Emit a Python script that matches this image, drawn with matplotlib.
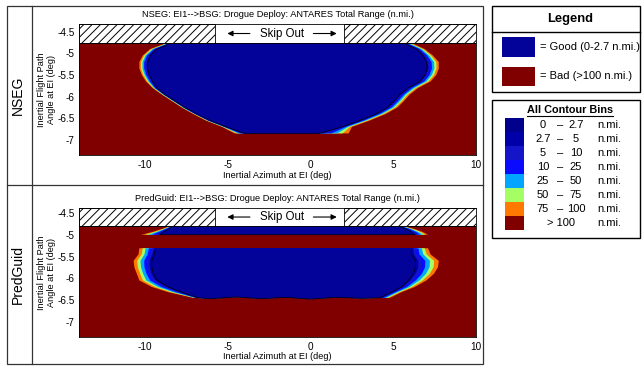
import numpy as np
import matplotlib
matplotlib.use('Agg')
import matplotlib.pyplot as plt
from matplotlib.patches import Rectangle

plt.rcParams['font.family'] = ['Liberation Sans', 'DejaVu Sans']
plt.rcParams['hatch.linewidth'] = 0.7

# contour bins (n.mi.)
bin_lo = ['0', '2.7', '5', '10', '25', '50', '75', '>']
bin_hi = ['2.7', '5', '10', '25', '50', '75', '100', '100']
bin_colors = ['#00008c', '#0000a8', '#1414c8', '#0a0aff', '#00a5ff', '#a5ff64', '#ff7800', '#800000']
good_color = '#03039a'
bad_color = '#800000'

# where each outer bin (2.7-5 ... 75-100) ends, as fraction from good edge to outer edge
band_frac = [0.12, 0.25, 0.42, 0.62, 0.8, 1.0]

# NSEG: good (<2.7) edge and outer (100 n.mi.) edge, azimuth vs flight path angle
nseg_fpa = [-4.76, -4.9, -5.05, -5.2, -5.35, -5.5, -5.65, -5.8, -5.95, -6.1, -6.25, -6.4, -6.55, -6.7, -6.85]
nseg_left_good = [-8.4, -9.3, -9.7, -9.85, -9.85, -9.75, -9.55, -9.3, -8.8, -8.2, -7.6, -6.9, -6.1, -5.1, -4.0]
nseg_left_out = [-8.7, -9.7, -10.15, -10.35, -10.35, -10.2, -9.95, -9.55, -9.0, -8.4, -7.8, -7.1, -6.35, -5.35, -4.6]
nseg_right_good = [5.6, 6.4, 6.8, 7.0, 7.05, 6.9, 6.6, 5.9, 5.4, 5.05, 4.65, 3.95, 3.0, 1.9, 0.5]
nseg_right_out = [6.1, 6.9, 7.4, 7.75, 7.75, 7.6, 7.25, 6.5, 6.0, 5.65, 5.25, 4.55, 3.6, 2.5, 2.3]

# PredGuid: thin strip under skip out, then the main region
pg_strip_fpa = [-4.8, -4.87, -4.94, -5.0]
pg_strip_left_good = [-8.3, -8.6, -8.9, -9.1]
pg_strip_left_out = [-8.5, -9.0, -9.6, -10.25]
pg_strip_right_good = [5.3, 5.8, 6.1, 6.3]
pg_strip_right_out = [5.6, 6.3, 6.8, 7.1]

pg_main_fpa = [-5.31, -5.45, -5.6, -5.75, -5.9, -6.05, -6.2, -6.32, -6.45]
pg_main_left_good = [-9.35, -9.45, -9.6, -9.6, -9.5, -9.25, -8.6, -7.8, -6.8]
pg_main_left_out = [-10.35, -10.4, -10.7, -10.65, -10.5, -10.35, -9.6, -8.6, -7.1]
pg_main_right_good = [6.1, 6.1, 6.35, 6.35, 6.2, 5.9, 5.5, 4.9, 4.2]
pg_main_right_out = [7.1, 7.25, 7.75, 7.7, 7.45, 7.0, 6.3, 5.5, 4.8]
pg_main_bottom_az = [-6.0, -4.5, -3.0, -1.5, 0.0, 1.5, 3.0]
pg_main_bottom_fpa = [-6.47, -6.43, -6.47, -6.44, -6.48, -6.44, -6.46]

x_ticks = [-10, -5, 0, 5, 10]
y_ticks = [-7, -6.5, -6, -5.5, -5, -4.5]


def draw_region(ax, fpa, lg, lo, rg, ro, bot_az=(), bot_fpa=()):
    fpa = np.array(fpa)
    lg, lo, rg, ro = map(np.array, (lg, lo, rg, ro))
    ys = np.concatenate([fpa, bot_fpa, fpa[::-1]])
    for k in reversed(range(len(band_frac))):
        f = band_frac[k]
        xs = np.concatenate([lg + f * (lo - lg), bot_az, (rg + f * (ro - rg))[::-1]])
        ax.fill(xs, ys, color=bin_colors[k + 1], lw=0, zorder=2)
    xs = np.concatenate([lg, bot_az, rg[::-1]])
    ax.fill(xs, ys, color=good_color, lw=0, zorder=3)
    ax.plot(xs, ys, color='k', lw=0.5, zorder=4)


def setup_panel(ax, title, ylim, hatch_bottom):
    ax.set_xlim(-14, 10)
    ax.set_ylim(*ylim)
    ax.axhspan(ylim[0], hatch_bottom, color=bad_color, lw=0, zorder=1)
    ax.add_patch(Rectangle((-14, hatch_bottom), 8.2, ylim[1] - hatch_bottom, facecolor='white',
                           edgecolor='k', hatch='////', lw=0.6, zorder=5))
    ax.add_patch(Rectangle((2.0, hatch_bottom), 8.0, ylim[1] - hatch_bottom, facecolor='white',
                           edgecolor='k', hatch='////', lw=0.6, zorder=5))
    ax.axhline(hatch_bottom, color='k', lw=0.6, zorder=5)
    ymid = (hatch_bottom + ylim[1]) / 2
    ax.text(-1.75, ymid, 'Skip Out', ha='center', va='center', fontsize=8.3, zorder=6)
    ax.annotate('', xy=(-5.2, ymid), xytext=(-3.5, ymid),
                arrowprops=dict(arrowstyle='-|>', color='k', lw=0.8, mutation_scale=8), zorder=6)
    ax.annotate('', xy=(1.75, ymid), xytext=(0.0, ymid),
                arrowprops=dict(arrowstyle='-|>', color='k', lw=0.8, mutation_scale=8), zorder=6)
    ax.set_xticks(x_ticks)
    ax.set_yticks(y_ticks)
    ax.set_yticklabels(['-7', '-6.5', '-6', '-5.5', '-5', '-4.5'])
    ax.set_xticklabels(['-10', '-5', '0', '5', '10'])
    ax.tick_params(length=0, labelsize=7.2, pad=3)
    ax.tick_params(axis='x', pad=3.5)
    for s in ax.spines.values():
        s.set_linewidth(0.6)
        s.set_zorder(7)
    ax.text(0.5, 1.075, title, transform=ax.transAxes, ha='center', va='center', fontsize=6.7)
    ax.text(0.5, -0.155, 'Inertial Azimuth at EI (deg)', transform=ax.transAxes,
            ha='center', va='center', fontsize=6.6)
    ax.text(-0.083, 0.5, 'Inertial Flight Path\nAngle at EI (deg)', transform=ax.transAxes,
            rotation=90, ha='center', va='center', fontsize=6.6, linespacing=1.15)


W, H = 643, 366
fig = plt.figure(figsize=(6.43, 3.66), dpi=100)

# frame, row labels and legend boxes in pixel coordinates
ov = fig.add_axes([0, 0, 1, 1])
ov.set_xlim(0, W)
ov.set_ylim(H, 0)
ov.axis('off')
ov.add_patch(Rectangle((7, 6), 476, 358, fill=False, ec='#333333', lw=0.9))
ov.plot([32, 32], [6, 364], color='#333333', lw=0.9)
ov.plot([7, 483], [185, 185], color='#333333', lw=0.9)
ov.text(18, 95, 'NSEG', rotation=90, ha='center', va='center', fontsize=10)
ov.text(18, 275, 'PredGuid', rotation=90, ha='center', va='center', fontsize=10)

ov.add_patch(Rectangle((492, 6), 148, 86, fill=False, ec='k', lw=1))
ov.plot([492, 640], [32, 32], color='k', lw=1)
ov.text(570, 19, 'Legend', ha='center', va='center', fontsize=9.3, fontweight='bold')
ov.add_patch(Rectangle((502, 37), 33, 20, fc=good_color, ec='none'))
ov.text(540, 47, '= Good (0-2.7 n.mi.)', ha='left', va='center', fontsize=8)
ov.add_patch(Rectangle((502, 67), 33, 19, fc=bad_color, ec='none'))
ov.text(540, 76, '= Bad (>100 n.mi.)', ha='left', va='center', fontsize=8)

ov.add_patch(Rectangle((492, 100), 148, 138, fill=False, ec='k', lw=1))
ov.text(570, 110, 'All Contour Bins', ha='center', va='center', fontsize=7.8, fontweight='bold')
ov.plot([527, 613], [116, 116], color='k', lw=0.8)
for i in range(len(bin_colors)):
    yc = 118 + 14 * i + 7
    ov.add_patch(Rectangle((505, 118 + 14 * i), 19, 14, fc=bin_colors[i], ec='none'))
    if bin_lo[i] == '>':
        ov.text(561, yc, '> ' + bin_hi[i], ha='center', va='center', fontsize=8)
    else:
        ov.text(543, yc, bin_lo[i], ha='center', va='center', fontsize=8)
        ov.text(560, yc, '\u2013', ha='center', va='center', fontsize=8)
        ov.text(576, yc, bin_hi[i], ha='center', va='center', fontsize=8)
    ov.text(597, yc, 'n.mi.', ha='left', va='center', fontsize=8)

# NSEG panel
ax1 = fig.add_axes([79 / W, 1 - 155 / H, 397 / W, 131 / H])
setup_panel(ax1, 'NSEG: EI1-->BSG: Drogue Deploy: ANTARES Total Range (n.mi.)', (-7.35, -4.32), -4.76)
draw_region(ax1, nseg_fpa, nseg_left_good, nseg_left_out, nseg_right_good, nseg_right_out)

# PredGuid panel
ax2 = fig.add_axes([79 / W, 1 - 337 / H, 397 / W, 129 / H])
setup_panel(ax2, 'PredGuid: EI1-->BSG: Drogue Deploy: ANTARES Total Range (n.mi.)', (-7.35, -4.385), -4.8)
draw_region(ax2, pg_strip_fpa, pg_strip_left_good, pg_strip_left_out, pg_strip_right_good, pg_strip_right_out)
draw_region(ax2, pg_main_fpa, pg_main_left_good, pg_main_left_out, pg_main_right_good, pg_main_right_out,
            pg_main_bottom_az, pg_main_bottom_fpa)

fig.savefig('out.png', dpi=100)
